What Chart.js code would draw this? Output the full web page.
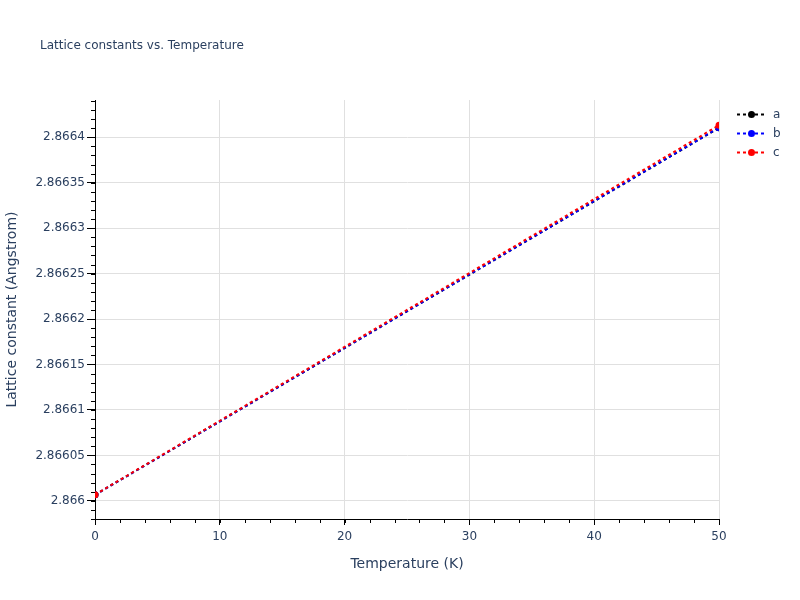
<!DOCTYPE html>
<html>
<head>
<meta charset="utf-8">
<script src="https://cdn.jsdelivr.net/npm/chart.js@4.4.1/dist/chart.umd.min.js"></script>
<style>
  html, body { margin: 0; padding: 0; background: #fff; }
  #wrap { width: 800px; height: 600px; }
</style>
</head>
<body>
<div id="wrap"><canvas id="chart" width="800" height="600"></canvas></div>
<script>
// --- data ---
const temperatures = [0, 50];
const latticeA = [2.8660066, 2.8664104];
const latticeB = [2.8660066, 2.8664106];
const latticeC = [2.8660068, 2.8664132];
const seriesNames = ['a', 'b', 'c'];
const seriesColors = ['#000000', '#0000ff', '#ff0000'];
const xTickStep = 10;
const yTickStep = 0.00005;

const FONT = '"DejaVu Sans", Verdana, sans-serif';
const TXT = '#2a3f5f';

function toPoints(vals) {
    return temperatures.map((t, i) => ({ x: t, y: vals[i] }));
}

function makeSet(idx, vals) {
    return {
        label: seriesNames[idx],
        data: toPoints(vals),
        borderColor: seriesColors[idx],
        backgroundColor: seriesColors[idx],
        borderWidth: 2,
        borderDash: [3, 3],
        pointRadius: 3.5,
        pointBorderWidth: 0,
        pointHoverRadius: 3.5,
        order: 2 - idx,
        tension: 0
    };
}

// minor ticks, title and plotly-like legend
const extras = {
    id: 'extras',
    afterDraw(chart) {
        const ctx = chart.ctx;
        const area = chart.chartArea;
        const xs = chart.scales.x, ys = chart.scales.y;
        ctx.save();
        ctx.strokeStyle = '#000';
        ctx.lineWidth = 1;
        // minor ticks on y every 0.00001
        for (let k = Math.ceil(ys.min / 0.00001); k * 0.00001 <= ys.max; k++) {
            const py = Math.round(ys.getPixelForValue(k * 0.00001)) + 0.5;
            ctx.beginPath(); ctx.moveTo(area.left - 4, py); ctx.lineTo(area.left, py); ctx.stroke();
        }
        // minor ticks on x every 2
        for (let v = 0; v <= xs.max; v += 2) {
            const px = Math.round(xs.getPixelForValue(v)) + 0.5;
            ctx.beginPath(); ctx.moveTo(px, area.bottom); ctx.lineTo(px, area.bottom + 4); ctx.stroke();
        }
        // title
        ctx.fillStyle = TXT;
        ctx.font = '12px ' + FONT;
        ctx.textBaseline = 'middle';
        ctx.textAlign = 'left';
        ctx.fillText('Lattice constants vs. Temperature', 40, 46);
        // legend
        seriesNames.forEach((name, i) => {
            const y = 114.5 + i * 19;
            ctx.strokeStyle = seriesColors[i];
            ctx.lineWidth = 2;
            ctx.setLineDash([3, 3]);
            ctx.beginPath(); ctx.moveTo(737, y); ctx.lineTo(766, y); ctx.stroke();
            ctx.setLineDash([]);
            ctx.fillStyle = seriesColors[i];
            ctx.beginPath(); ctx.arc(751.5, y, 3.5, 0, Math.PI * 2); ctx.fill();
            ctx.fillStyle = TXT;
            ctx.font = '12px ' + FONT;
            ctx.fillText(name, 773, y);
        });
        ctx.restore();
    }
};

new Chart(document.getElementById('chart'), {
    type: 'line',
    data: { datasets: [makeSet(0, latticeA), makeSet(1, latticeB), makeSet(2, latticeC)] },
    options: {
        responsive: false,
        devicePixelRatio: 1,
        animation: false,
        layout: { padding: { top: 100, right: 81, bottom: 0, left: 0 } },
        plugins: { legend: { display: false }, title: { display: false }, tooltip: { enabled: false } },
        scales: {
            x: {
                type: 'linear',
                min: 0, max: 50,
                afterFit(s) { s.height = 81; },
                border: { color: '#000', width: 1 },
                grid: { color: '#e0e0e0', tickColor: '#000', tickLength: 6 },
                ticks: { stepSize: xTickStep, color: TXT, font: { family: FONT, size: 12 }, padding: 5, maxRotation: 0 },
                title: { display: true, text: 'Temperature (K)', color: TXT, font: { family: FONT, size: 14 }, padding: { top: 0, bottom: 27 } }
            },
            y: {
                type: 'linear',
                min: 2.86598, max: 2.866441,
                afterFit(s) { s.width = 95; },
                border: { color: '#000', width: 1 },
                grid: { color: '#e0e0e0', tickColor: '#000', tickLength: 8 },
                ticks: {
                    stepSize: yTickStep,
                    includeBounds: false,
                    color: TXT, font: { family: FONT, size: 12 }, padding: 2,
                    callback: v => String(Number(v.toFixed(5)))
                },
                title: { display: true, text: 'Lattice constant (Angstrom)', color: TXT, font: { family: FONT, size: 14 }, padding: { top: 4, bottom: 0 } }
            }
        }
    },
    plugins: [extras]
});
</script>
</body>
</html>
